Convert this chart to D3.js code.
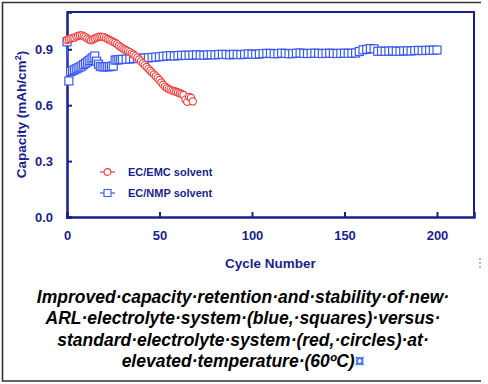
<!DOCTYPE html>
<html>
<head>
<meta charset="utf-8">
<script src="https://cdn.jsdelivr.net/npm/d3@7"></script>
<style>
  body { margin: 0; background: #fff; }
  svg { display: block; }
</style>
</head>
<body>
<div id="chart"></div>
<script>
// EC/EMC solvent (red circles), one value per cycle from 0
var emcCycles = d3.range(0, 69);
var emcCapacity = [
  0.950, 0.955, 0.957, 0.960, 0.962, 0.968, 0.972, 0.975, 0.975, 0.970,
  0.965, 0.958, 0.952, 0.948, 0.952, 0.958, 0.962, 0.966, 0.968, 0.967,
  0.965, 0.960, 0.955, 0.950, 0.945, 0.940, 0.935, 0.928, 0.920, 0.912,
  0.905, 0.900, 0.895, 0.890, 0.885, 0.878, 0.872, 0.863, 0.855, 0.845,
  0.835, 0.825, 0.815, 0.805, 0.795, 0.785, 0.775, 0.765, 0.755, 0.745,
  0.735, 0.722, 0.710, 0.700, 0.692, 0.686, 0.682, 0.678, 0.675, 0.672,
  0.668, 0.664, 0.660, 0.655, 0.630, 0.618, 0.645, 0.640, 0.620
];

// EC/NMP solvent (blue squares)
var nmpCycles = d3.range(0, 31).concat(d3.range(32, 201, 2));
var nmpCapacity = [
  0.940, 0.730, 0.780, 0.785, 0.790, 0.795, 0.800, 0.805, 0.810, 0.818,
  0.825, 0.832, 0.840, 0.848, 0.855, 0.864, 0.836, 0.820, 0.808, 0.806,
  0.806, 0.807, 0.806, 0.807, 0.808, 0.810, 0.842, 0.843, 0.844, 0.845,
  0.846,
  0.847, 0.848, 0.850, 0.851, 0.852, 0.853, 0.854, 0.856, 0.858, 0.860,
  0.862, 0.864, 0.866, 0.864, 0.866, 0.868, 0.867, 0.868, 0.869, 0.870,
  0.869, 0.868, 0.870, 0.871, 0.870, 0.872, 0.873, 0.872, 0.870, 0.873,
  0.872, 0.871, 0.873, 0.875, 0.874, 0.873, 0.875, 0.877, 0.878, 0.878,
  0.876, 0.877, 0.879, 0.878, 0.876, 0.877, 0.879, 0.880, 0.878, 0.877,
  0.878, 0.879, 0.878, 0.877, 0.878, 0.879, 0.878, 0.877, 0.878, 0.879,
  0.878, 0.879, 0.880, 0.888, 0.897, 0.900, 0.904, 0.902, 0.889, 0.890,
  0.889, 0.890, 0.891, 0.890, 0.889, 0.891, 0.892, 0.891, 0.893, 0.894,
  0.893, 0.894, 0.895, 0.895, 0.896
];

var xTicks = [0, 50, 100, 150, 200];
var yTicks = [0.0, 0.3, 0.6, 0.9];
var legendLabels = ["EC/EMC solvent", "EC/NMP solvent"];
var captionLines = [
  "Improved\u00b7capacity\u00b7retention\u00b7and\u00b7stability\u00b7of\u00b7new\u00b7",
  "ARL\u00b7electrolyte\u00b7system\u00b7(blue,\u00b7squares)\u00b7versus\u00b7",
  "standard\u00b7electrolyte\u00b7system\u00b7(red,\u00b7circles)\u00b7at\u00b7",
  "elevated\u00b7temperature\u00b7(60\u00baC)"
];

var navy = "#1b1f8c",
    red = "#f03c3c",
    blue = "#3a5af0";

var W = 488, H = 384;
var margin = {top: 12, right: 14, bottom: 167, left: 67};
var width = W - margin.left - margin.right,
    height = H - margin.top - margin.bottom;

var svg = d3.select("#chart").append("svg")
    .attr("width", W)
    .attr("height", H)
    .style("font-family", "Liberation Sans, Arial, sans-serif");

// outer frame (no right side)
svg.append("path")
    .attr("d", "M481,2.5 H2.5 V381 H481")
    .attr("fill", "none")
    .attr("stroke", "#333")
    .attr("stroke-width", 1.6);

var g = svg.append("g")
    .attr("transform", "translate(" + margin.left + "," + margin.top + ")");

var x = d3.scaleLinear().domain([0, 220]).range([0, width]);
var y = d3.scaleLinear().domain([0, 1.1]).range([height, 0]);

// top and right frame of plot
g.append("path")
    .attr("d", "M0,0 H" + width + " V" + height)
    .attr("fill", "none")
    .attr("stroke", navy)
    .attr("stroke-width", 2);

var xAxis = g.append("g")
    .attr("transform", "translate(0," + height + ")")
    .call(d3.axisBottom(x).tickValues(xTicks).tickSize(-5).tickPadding(14)
        .tickFormat(d3.format("d")));

var yAxis = g.append("g")
    .call(d3.axisLeft(y).tickValues(yTicks).tickSize(-5).tickPadding(14)
        .tickFormat(d3.format(".1f")));

[xAxis, yAxis].forEach(function(a) {
    a.select(".domain").attr("stroke", navy).attr("stroke-width", 2.5);
    a.selectAll(".tick line").attr("stroke", navy).attr("stroke-width", 2);
    a.selectAll(".tick text")
        .attr("fill", navy)
        .style("font-size", "13px")
        .style("font-weight", "bold");
});

// series
var emc = emcCycles.map(function(c, i) { return {c: c, v: emcCapacity[i]}; });
var nmp = nmpCycles.map(function(c, i) { return {c: c, v: nmpCapacity[i]}; });

var line = d3.line()
    .x(function(d) { return x(d.c); })
    .y(function(d) { return y(d.v); });

g.append("path").datum(nmp)
    .attr("d", line).attr("fill", "none")
    .attr("stroke", blue).attr("stroke-width", 1);

g.selectAll("rect.nmp").data(nmp).enter().append("rect")
    .attr("class", "nmp")
    .attr("x", function(d) { return x(d.c) - 4; })
    .attr("y", function(d) { return y(d.v) - 4; })
    .attr("width", 8).attr("height", 8)
    .attr("fill", "#fff")
    .attr("stroke", blue).attr("stroke-width", 1.2);

g.append("path").datum(emc)
    .attr("d", line).attr("fill", "none")
    .attr("stroke", red).attr("stroke-width", 1);

g.selectAll("circle.emc").data(emc).enter().append("circle")
    .attr("class", "emc")
    .attr("cx", function(d) { return x(d.c); })
    .attr("cy", function(d) { return y(d.v); })
    .attr("r", 3.6)
    .attr("fill", "#fff")
    .attr("stroke", red).attr("stroke-width", 1.1);

// legend
var legend = g.selectAll("g.legend").data(legendLabels).enter().append("g")
    .attr("class", "legend")
    .attr("transform", function(d, i) { return "translate(33," + (160 + i * 21) + ")"; });

legend.append("line")
    .attr("x1", 0).attr("x2", 15)
    .attr("stroke", function(d, i) { return i ? blue : red; })
    .attr("stroke-width", 1.2);

legend.each(function(d, i) {
    var s = d3.select(this);
    if (i === 0) {
        s.append("circle").attr("cx", 7.5).attr("r", 3.4)
            .attr("fill", "#fff").attr("stroke", red).attr("stroke-width", 1.1);
    } else {
        s.append("rect").attr("x", 4).attr("y", -3.5).attr("width", 7).attr("height", 7)
            .attr("fill", "#fff").attr("stroke", blue).attr("stroke-width", 1.1);
    }
});

legend.append("text")
    .attr("x", 28).attr("dy", "0.35em")
    .attr("fill", navy)
    .style("font-size", "11px")
    .style("font-weight", "bold")
    .text(function(d) { return d; });

// axis titles
svg.append("text")
    .attr("x", margin.left + width / 2).attr("y", 268)
    .attr("text-anchor", "middle")
    .attr("fill", navy)
    .style("font-size", "13.5px").style("font-weight", "bold")
    .text("Cycle Number");

svg.append("text")
    .attr("transform", "translate(26," + (margin.top + height / 2) + ") rotate(-90)")
    .attr("text-anchor", "middle")
    .attr("fill", navy)
    .style("font-size", "13.5px").style("font-weight", "bold")
    .html("Capacity (mAh/cm<tspan dy='-5' font-size='9px'>2</tspan><tspan dy='5'>)</tspan>");

// small selection mark at right
svg.append("line")
    .attr("x1", 480).attr("x2", 480).attr("y1", 258).attr("y2", 269)
    .attr("stroke", "#7fa6f0").attr("stroke-width", 1.5)
    .attr("stroke-dasharray", "2,2");

// caption
var cap = svg.append("g");
captionLines.forEach(function(t, i) {
    var txt = cap.append("text")
        .attr("x", 243).attr("y", 303 + i * 21.3)
        .attr("text-anchor", "middle")
        .attr("fill", "#000")
        .style("font-size", "17.5px")
        .style("font-weight", "bold")
        .style("font-style", "italic")
        .text(t);
    if (i === captionLines.length - 1) {
        txt.append("tspan").attr("fill", "#4a78e0").style("font-style", "normal")
            .text("\u00a4");
    }
});
</script>
</body>
</html>
